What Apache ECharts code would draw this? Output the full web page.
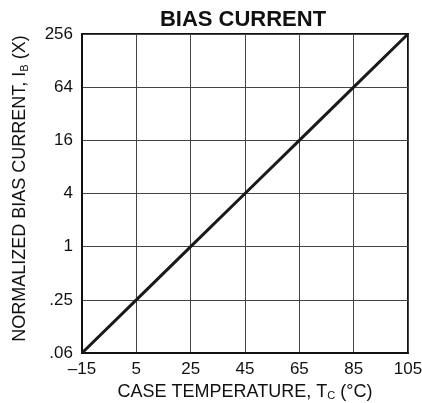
<!DOCTYPE html>
<html>
<head>
<meta charset="utf-8">
<script src="https://cdn.jsdelivr.net/npm/echarts@6/dist/echarts.min.js"></script>
<style>
  html, body { margin: 0; padding: 0; background: #fff; }
  #chart { width: 422px; height: 403px; }
</style>
</head>
<body>
<div id="chart"></div>
<script>
// case temperature (°C) vs normalized bias current
var temps = [-15, 5, 25, 45, 65, 85, 105];
var biasCurrent = [0.0625, 0.25, 1, 4, 16, 64, 256];
var yTickLabels = {0.0625: '.06', 0.25: '.25', 1: '1', 4: '4', 16: '16', 64: '64', 256: '256'};

var font = 'Liberation Sans, Arial, Helvetica, sans-serif';
var chart = echarts.init(document.getElementById('chart'));

var points = temps.map(function (t, i) { return [t, biasCurrent[i]]; });

var subStyle = { fontFamily: font, fontSize: 11, color: '#111', verticalAlign: 'bottom', padding: [8, 0, 0, 0] };

var option = {
    animation: false,
    title: {
        text: 'BIAS CURRENT',
        left: 238,
        textAlign: 'center',
        top: 4,
        textStyle: { fontFamily: font, fontSize: 22, fontWeight: 'bold', color: '#111' }
    },
    // grid border gives the closed frame
    grid: {
        left: 82, right: 14, top: 34, bottom: 50,
        outerBoundsMode: 'none',
        show: true, borderColor: '#111', borderWidth: 2
    },
    xAxis: {
        type: 'value',
        min: -15,
        max: 105,
        interval: 20,
        name: 'CASE TEMPERATURE, T{sub|C} (°C)',
        nameLocation: 'middle',
        nameGap: 21,
        nameTextStyle: { fontFamily: font, fontSize: 18, color: '#111', rich: { sub: subStyle } },
        axisLine: { show: true, onZero: false, lineStyle: { color: '#111', width: 2 } },
        axisTick: { show: false },
        splitLine: { show: true, lineStyle: { color: '#444', width: 1 } },
        axisLabel: {
            fontFamily: font, fontSize: 17, color: '#111', margin: 8,
            formatter: function (v) { return v < 0 ? '\u2013' + Math.abs(v) : String(v); }
        }
    },
    yAxis: {
        type: 'log',
        logBase: 4,
        min: 0.0625,
        max: 256,
        interval: 1,
        name: 'NORMALIZED BIAS CURRENT, I{sub|B} (X)',
        nameLocation: 'middle',
        nameGap: 52,
        nameRotate: 90,
        nameTextStyle: { fontFamily: font, fontSize: 18, color: '#111', padding: [0, 0, 0, 10], rich: { sub: subStyle } },
        axisLine: { show: true, onZero: false, lineStyle: { color: '#111', width: 2 } },
        axisTick: { show: false },
        splitLine: { show: true, lineStyle: { color: '#444', width: 1 } },
        axisLabel: {
            fontFamily: font, fontSize: 17, color: '#111', margin: 9,
            formatter: function (v) {
                var key = Math.round(v * 10000) / 10000;
                return yTickLabels[key] !== undefined ? yTickLabels[key] : '';
            }
        }
    },
    series: [{
        type: 'line',
        data: points,
        symbol: 'none',
        lineStyle: { color: '#1a1a1a', width: 3 }
    }]
};

chart.setOption(option);
</script>
</body>
</html>
